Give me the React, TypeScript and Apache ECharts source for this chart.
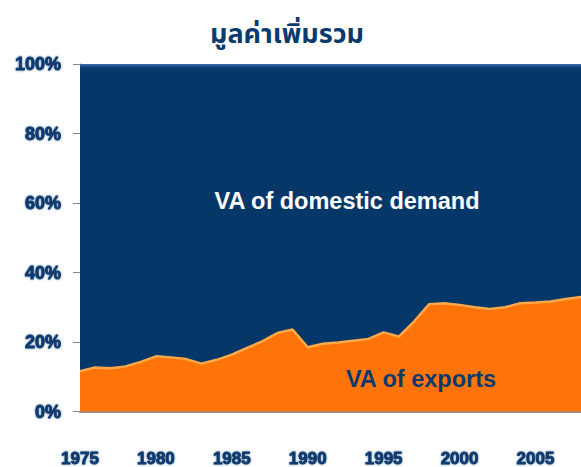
import React, { useEffect, useRef } from "react";
import * as echarts from "echarts";

const years: string[] = [
  "1975","1976","1977","1978","1979","1980","1981","1982","1983","1984",
  "1985","1986","1987","1988","1989","1990","1991","1992","1993","1994",
  "1995","1996","1997","1998","1999","2000","2001","2002","2003","2004",
  "2005","2006","2007","2008",
];

// share of value added from exports (%)
const vaExports: number[] = [
  11.6, 12.7, 12.5, 13.0, 14.3, 15.9, 15.6, 15.1, 13.8, 14.9,
  16.4, 18.3, 20.2, 22.6, 23.6, 18.5, 19.5, 19.9, 20.4, 20.9,
  22.8, 21.6, 25.9, 30.9, 31.2, 30.7, 30.0, 29.5, 30.0, 31.2,
  31.4, 31.7, 32.4, 33.0,
];

// share of value added from domestic demand (%)
const vaDomestic: number[] = vaExports.map((v) => +(100 - v).toFixed(1));

const yTicks: number[] = [0, 20, 40, 60, 80, 100];

const TITLE = "มูลค่าเพิ่มรวม";
const NAVY = "#063769";
const LABEL = "#0b3a6e";
const ORANGE = "#ff7409";

export default function App() {
  const ref = useRef<HTMLDivElement>(null);
  useEffect(() => {
    if (!ref.current) return;
    const chart = echarts.init(ref.current, undefined, { renderer: "svg" });
    const labelStyle = {
      color: LABEL,
      fontFamily: "Liberation Sans, Arial, sans-serif",
      fontWeight: 900 as any,
      fontSize: 17,
      textBorderColor: LABEL,
      textBorderWidth: 0.8,
      textShadowColor: "rgba(11,58,110,0.6)",
      textShadowBlur: 2,
    };
    chart.setOption({
      animation: false,
      backgroundColor: "#ffffff",
      title: {
        text: TITLE,
        left: 282,
        textAlign: "center",
        top: 16,
        textStyle: {
          color: LABEL,
          fontSize: 27,
          fontWeight: "bold",
          fontFamily: "Noto Sans Thai, Noto Sans, DejaVu Sans, sans-serif",
        },
      },
      grid: { left: 80, right: 0, top: 64, bottom: 55, containLabel: false },
      xAxis: [
        {
          type: "category",
          data: years,
          boundaryGap: false,
          axisLine: { show: true, lineStyle: { color: "#8a8f98", width: 2 } },
          axisTick: { show: false },
          axisLabel: { ...labelStyle, interval: 4, margin: 38 },
          splitLine: { show: false },
        },
        {
          type: "category",
          data: years,
          position: "top",
          boundaryGap: false,
          axisLine: { show: true, lineStyle: { color: "#8a8f98", width: 1 } },
          axisTick: { show: false },
          axisLabel: { show: false },
        },
      ],
      yAxis: {
        type: "value",
        min: 0,
        max: 100,
        interval: 20,
        axisLine: { show: true, lineStyle: { color: "#7f8a99", width: 1 } },
        axisTick: { show: true, length: 7, lineStyle: { color: "#808890", width: 1 } },
        axisLabel: {
          ...labelStyle,
          fontSize: 18,
          margin: 19,
          formatter: (v: number) => (yTicks.includes(v) ? v + "%" : ""),
        },
        splitLine: { show: false },
      },
      series: [
        {
          name: "VA of exports",
          type: "line",
          stack: "total",
          data: vaExports,
          symbol: "none",
          z: 3,
          lineStyle: { color: "#ffa84a", width: 2.5 },
          areaStyle: { color: ORANGE, opacity: 1 },
        },
        {
          name: "VA of domestic demand",
          type: "line",
          stack: "total",
          data: vaDomestic,
          symbol: "none",
          z: 2,
          lineStyle: { width: 0 },
          areaStyle: {
            opacity: 1,
            color: {
              type: "linear",
              x: 0, y: 0, x2: 0, y2: 1,
              colorStops: [
                { offset: 0, color: "#3a70b0" },
                { offset: 0.012, color: "#0b3d74" },
                { offset: 0.03, color: NAVY },
                { offset: 1, color: NAVY },
              ],
            },
          },
        },
      ],
      graphic: [
        {
          type: "text",
          z: 100,
          x: 347,
          y: 201,
          style: {
            text: "VA of domestic demand",
            fill: "#ffffff",
            fontSize: 23.5,
            fontWeight: "bold",
            fontFamily: "Liberation Sans, Arial, sans-serif",
            align: "center",
            verticalAlign: "middle",
          },
        },
        {
          type: "text",
          z: 100,
          x: 421,
          y: 379,
          style: {
            text: "VA of exports",
            fill: LABEL,
            fontSize: 23.5,
            fontWeight: "bold",
            fontFamily: "Liberation Sans, Arial, sans-serif",
            align: "center",
            verticalAlign: "middle",
          },
        },
      ],
    });
    return () => chart.dispose();
  }, []);
  return <div ref={ref} style={{ width: 581, height: 467, position: "absolute", left: 0, top: 0 }} />;
}
